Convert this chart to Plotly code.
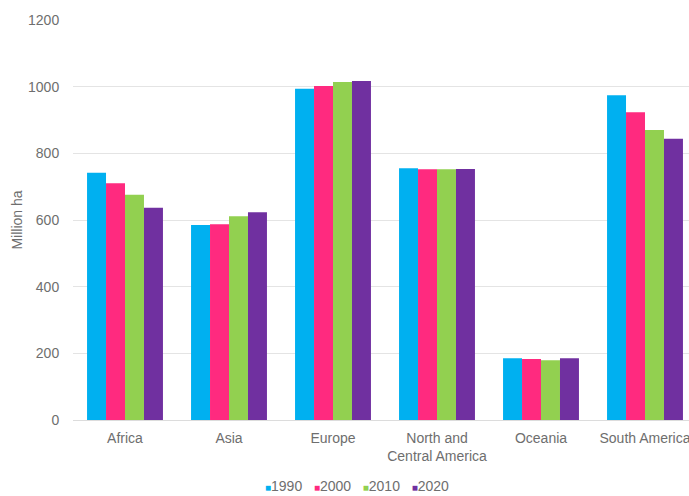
import plotly.graph_objects as go

regions = ["Africa", "Asia", "Europe", "North and<br>Central America", "Oceania", "South America"]
years = ["1990", "2000", "2010", "2020"]
colors = ["#00B0F0", "#FF2A7F", "#92D050", "#7030A0"]
values = {
    "1990": [742, 585, 994, 755, 185, 974],
    "2000": [710, 587, 1002, 752, 183, 923],
    "2010": [676, 611, 1014, 752, 179, 870],
    "2020": [637, 623, 1017, 753, 185, 844],
}
y_ticks = [0, 200, 400, 600, 800, 1000, 1200]

FONT = "Liberation Sans, Arial, sans-serif"
TXT = "#6e6e6e"

fig = go.Figure()
for yr, col in zip(years, colors):
    fig.add_trace(go.Bar(x=regions, y=values[yr], name=yr, marker_color=col,
                         marker_line_width=0))

legend_text = "   ".join(
    f"<span style='color:{c};font-size:10px'>■</span>{y}" for y, c in zip(years, colors)
)

fig.update_layout(
    width=715, height=496,
    margin=dict(l=73, r=18, t=16, b=76),
    paper_bgcolor="white", plot_bgcolor="white",
    barmode="group", bargap=0.27, bargroupgap=0,
    showlegend=False,
    font=dict(family=FONT, size=14, color=TXT),
    xaxis=dict(showgrid=False, showline=False, ticks="outside", ticklen=5,
               tickcolor="rgba(0,0,0,0)", tickfont=dict(size=14, color=TXT)),
    yaxis=dict(range=[0, 1200], tickvals=y_ticks, showgrid=True, gridcolor="#e4e4e4",
               gridwidth=1, zeroline=True, zerolinecolor="#dcdcdc", zerolinewidth=1,
               ticks="outside", ticklen=10, tickcolor="rgba(0,0,0,0)",
               tickfont=dict(size=14, color=TXT),
               title=dict(text="Million ha", standoff=2, font=dict(size=14, color=TXT))),
    annotations=[dict(text=legend_text, xref="paper", yref="paper",
                      x=(357 - 73) / (715 - 73 - 18), y=-0.165, xanchor="center",
                      yanchor="middle", showarrow=False,
                      font=dict(size=14, color=TXT, family=FONT))],
)

fig.write_html("out.html")
